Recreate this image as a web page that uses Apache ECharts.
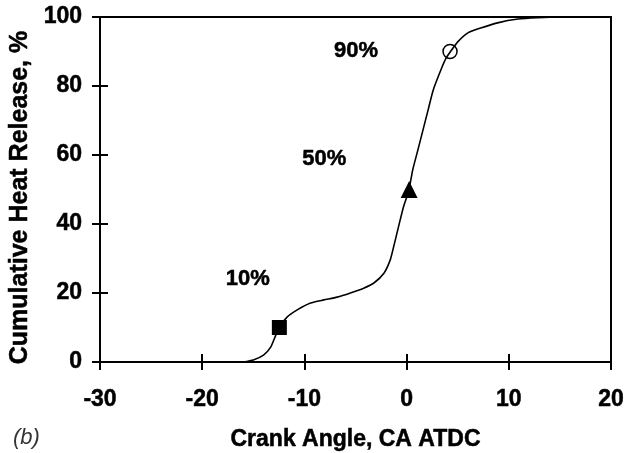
<!DOCTYPE html>
<html>
<head>
<meta charset="utf-8">
<script src="https://cdn.jsdelivr.net/npm/echarts@6/dist/echarts.min.js"></script>
<style>html,body{margin:0;padding:0;background:#fff}#c{width:633px;height:453px}</style>
</head>
<body>
<div id="c"></div>
<script>
// Curve data: crank angle (deg ATDC) vs cumulative heat release (%)
var crankAngle = [-16, -15, -14, -13.3, -12.8, -12.45, -11.7, -10.7, -9.4, -8.1, -6.8, -5.5, -4.2, -3.2, -2.2, -1.6, -1.3, -0.8, -0.3, 0.2, 0.6, 1.1, 1.6, 2.1, 2.6, 3.4, 3.85, 4.3, 5.0, 6.0, 7.25, 8.9, 10.9, 12.8, 15, 19];
var heatRelease = [0, 0.6, 2.0, 4.3, 7.8, 10.1, 13.0, 15.1, 17.1, 18.0, 18.8, 20.0, 21.4, 22.9, 25.8, 29.6, 33, 39.1, 45, 49.5, 55.7, 61.4, 67.2, 73, 78.8, 85, 88, 90, 92.8, 95.4, 96.8, 98.3, 99.4, 99.8, 100, 100];

// Marker points (10%, 50%, 90% burn)
var markerX = [-12.45, 0.25, 4.25];
var markerY = [10, 50, 90];
var markerSymbols = ['rect', 'triangle', 'circle'];

// Annotation labels
var annotText = ['10%', '50%', '90%'];
var annotX = [-15.5, -8.0, -4.9];
var annotY = [23.8, 58.6, 90.1];

// Axis ticks
var xMin = -30, xMax = 20, xStep = 10;
var yMin = 0, yMax = 100, yStep = 20;

var FONT = 'Liberation Sans';
var chart = echarts.init(document.getElementById('c'), null, {renderer: 'canvas'});

var curve = crankAngle.map(function (x, i) { return [x, heatRelease[i]]; });
var markers = markerX.map(function (x, i) {
  return {value: [x, markerY[i]], symbol: markerSymbols[i],
    symbolSize: i === 0 ? 15 : (i === 1 ? 17 : 14),
    itemStyle: i === 2 ? {color: 'rgba(255,255,255,0)', borderColor: '#000', borderWidth: 1.5, opacity: 1} : {color: '#000', opacity: 1}};
});
var annots = annotText.map(function (t, i) { return {value: [annotX[i], annotY[i]], name: t}; });

var axisBase = {
  type: 'value', splitLine: {show: false}
};
var heavy = {textBorderColor: '#000', textBorderWidth: 0.5};

chart.setOption({
  animation: false,
  backgroundColor: '#fff',
  grid: {left: 100, right: 22, top: 17, bottom: 91, show: true, borderColor: '#000', borderWidth: 2,
    containLabel: false, outerBoundsMode: 'none'},
  xAxis: [
    Object.assign({}, axisBase, {
      min: xMin, max: xMax, interval: xStep, position: 'bottom',
      axisLine: {show: true, onZero: false, lineStyle: {color: '#000', width: 2}},
      axisTick: {show: true, inside: false, length: 8, lineStyle: {color: '#000', width: 2}},
      axisLabel: Object.assign({fontFamily: FONT, fontWeight: 'bold', fontSize: 23, color: '#000', margin: 26}, heavy),
      name: 'Crank Angle, CA ATDC', nameLocation: 'middle', nameGap: 66,
      nameTextStyle: Object.assign({fontFamily: FONT, fontWeight: 'bold', fontSize: 23, color: '#000'}, heavy)
    }),
    Object.assign({}, axisBase, {
      min: xMin, max: xMax, interval: xStep, position: 'bottom',
      axisLine: {show: false, onZero: false},
      axisTick: {show: true, inside: true, length: 8, lineStyle: {color: '#000', width: 2}},
      axisLabel: {show: false}
    })
  ],
  yAxis: [
    Object.assign({}, axisBase, {
      min: yMin, max: yMax, interval: yStep, position: 'left',
      axisLine: {show: true, onZero: false, lineStyle: {color: '#000', width: 2}},
      axisTick: {show: true, inside: false, length: 8, lineStyle: {color: '#000', width: 2}},
      axisLabel: Object.assign({fontFamily: FONT, fontWeight: 'bold', fontSize: 23, color: '#000', margin: 18}, heavy),
      name: 'Cumulative Heat Release, %', nameLocation: 'middle', nameGap: 60,
      nameTextStyle: Object.assign({fontFamily: FONT, fontWeight: 'bold', fontSize: 25, color: '#000',
        padding: [0, 16, 0, 0]}, heavy)
    }),
    Object.assign({}, axisBase, {
      min: yMin, max: yMax, interval: yStep, position: 'left',
      axisLine: {show: false, onZero: false},
      axisTick: {show: true, inside: true, length: 8, lineStyle: {color: '#000', width: 2}},
      axisLabel: {show: false}
    })
  ],
  graphic: [{
    type: 'text', left: 13, top: 427,
    style: {text: '(b)', font: 'italic 22px "Liberation Sans"', fill: '#333'}
  }],
  series: [
    {type: 'line', data: curve, showSymbol: false, symbol: 'none', smooth: 0.2,
      lineStyle: {color: '#000', width: 1.6}, z: 2},
    {type: 'scatter', data: markers, z: 3},
    {type: 'scatter', data: annots, symbol: 'circle', symbolSize: 1,
      itemStyle: {color: '#fff', opacity: 1}, silent: true,
      label: Object.assign({show: true, position: [0, 0], align: 'center', verticalAlign: 'middle', formatter: '{b}',
        fontFamily: FONT, fontWeight: 'bold', fontSize: 22, color: '#000', opacity: 1}, heavy), z: 4}
  ]
});
</script>
</body>
</html>
